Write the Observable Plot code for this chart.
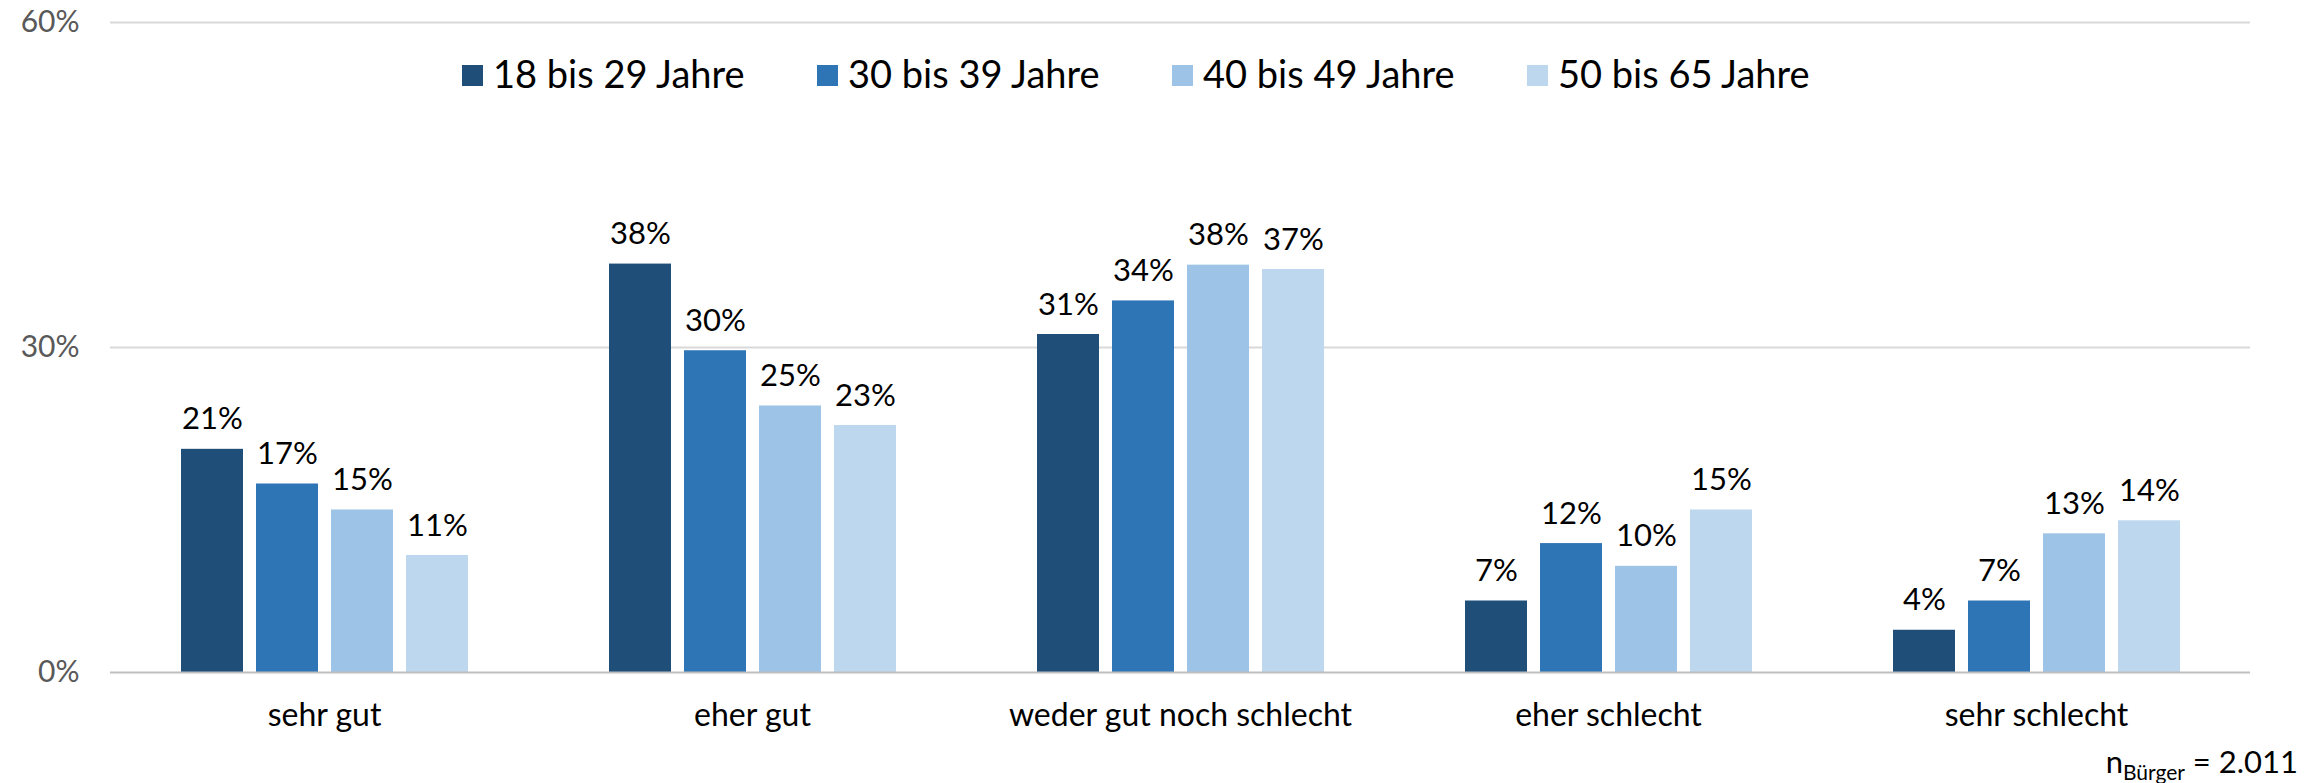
<!DOCTYPE html>
<html>
<head>
<meta charset="utf-8">
<script src="https://cdn.jsdelivr.net/npm/d3@7"></script>
<script src="https://cdn.jsdelivr.net/npm/@observablehq/plot@0.6"></script>
<style>
  html, body { margin: 0; padding: 0; background: #fff; }
  body { width: 2323px; height: 783px; overflow: hidden; font-family: Lato, "Open Sans", sans-serif; }
  #wrap { position: relative; width: 2323px; height: 783px; }
  #legend { position: absolute; left: 462px; top: 51px; display: flex; }
  .item { width: 355px; display: flex; align-items: center; font-size: 38px; line-height: 1.2; color: #000; white-space: nowrap; }
  .sw { width: 21px; height: 21px; margin-right: 10px; margin-top: 3px; flex: none; }
  #note { position: absolute; right: 25px; top: 742px; font-size: 31px; line-height: 38px; color: #000; }
  #note sub { font-size: 21px; vertical-align: -7px; line-height: 0; }
</style>
</head>
<body>
<div id="wrap">
  <div id="chart"></div>
  <div id="legend"></div>
  <div id="note">n<sub>Bürger</sub> = 2.011</div>
</div>
<script>
const categories = ["sehr gut", "eher gut", "weder gut noch schlecht", "eher schlecht", "sehr schlecht"];
const ages = ["18 bis 29 Jahre", "30 bis 39 Jahre", "40 bis 49 Jahre", "50 bis 65 Jahre"];
const v18to29 = [20.6, 37.7, 31.2, 6.6, 3.9];
const v30to39 = [17.4, 29.7, 34.3, 11.9, 6.6];
const v40to49 = [15.0, 24.6, 37.6, 9.8, 12.8];
const v50to65 = [10.8, 22.8, 37.2, 15.0, 14.0];
const yTicks = [0, 30, 60];
const colors = ["#1F4E79", "#2E75B6", "#9DC3E6", "#BDD7EE"];

const series = [v18to29, v30to39, v40to49, v50to65];
const data = [];
categories.forEach((c, i) => ages.forEach((a, j) => data.push({cat: c, age: a, value: series[j][i]})));

const chart = Plot.plot({
  width: 2323,
  height: 740,
  marginLeft: 108,
  marginRight: 71,
  marginTop: 22,
  marginBottom: 68,
  style: {fontFamily: "Lato, 'Open Sans', sans-serif", background: "#fff"},
  fx: {domain: categories, padding: 0, label: null},
  x: {domain: ages, paddingInner: 0.18, paddingOuter: 0.911, axis: null},
  y: {domain: [0, 60], axis: null},
  color: {domain: ages, range: colors},
  marks: [
    Plot.ruleY(yTicks.filter(t => t > 0), {stroke: "#d9d9d9", strokeWidth: 2}),
    Plot.barY(data, {fx: "cat", x: "age", y: "value", fill: "age"}),
    Plot.ruleY([0], {stroke: "#bfbfbf", strokeWidth: 2}),
    Plot.text(data, {fx: "cat", x: "age", y: "value", text: d => Math.round(d.value) + "%", lineAnchor: "bottom", dy: -20, fontSize: 31, fill: "#000"}),
    Plot.axisY(yTicks, {tickSize: 0, tickPadding: 31, fontSize: 30, fill: "#595959", tickFormat: d => d + "%", label: null}),
    Plot.axisFx({anchor: "bottom", tickSize: 0, tickPadding: 31, fontSize: 32, fill: "#000", label: null})
  ]
});
document.getElementById("chart").appendChild(chart);

const legend = document.getElementById("legend");
ages.forEach((a, j) => {
  const it = document.createElement("div");
  it.className = "item";
  const sw = document.createElement("span");
  sw.className = "sw";
  sw.style.background = colors[j];
  const t = document.createElement("span");
  t.textContent = a;
  it.appendChild(sw);
  it.appendChild(t);
  legend.appendChild(it);
});
</script>
</body>
</html>
